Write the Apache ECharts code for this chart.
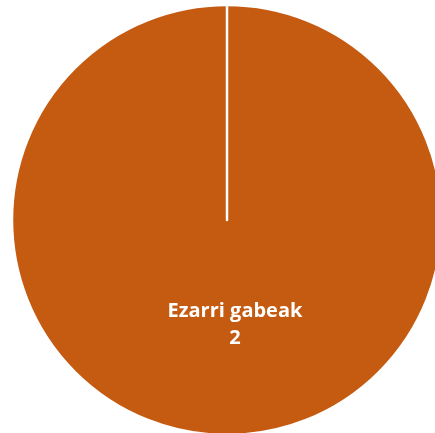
<!DOCTYPE html>
<html><head><meta charset="utf-8">
<script src="https://cdn.jsdelivr.net/npm/echarts@6/dist/echarts.min.js"></script>
<style>html,body{margin:0;padding:0;background:#fff}#c{width:435px;height:433px}</style>
</head><body><div id="c"></div>
<script>
const categories = ["Ezarri gabeak", ""];
const values = [2, 0];
const chart = echarts.init(document.getElementById('c'), null, {renderer:'canvas'});
chart.setOption({
  animation:false,
  series:[{
    type:'pie',
    center:[227,220],
    radius:[0,215],
    startAngle:90,
    clockwise:true,
    data:categories.map((n,i)=>({name:n,value:values[i],label:{show:values[i]>0}})),
    itemStyle:{color:'#C55A11',borderColor:'#fff',borderWidth:2.5},
    label:{position:'inside',formatter:'{b}\n{c}',color:'#fff',fontFamily:'Open Sans',fontWeight:'bold',fontSize:20,lineHeight:27,offset:[8,-6]},
    labelLine:{show:false},
    emphasis:{disabled:true}
  }]
});
</script></body></html>
